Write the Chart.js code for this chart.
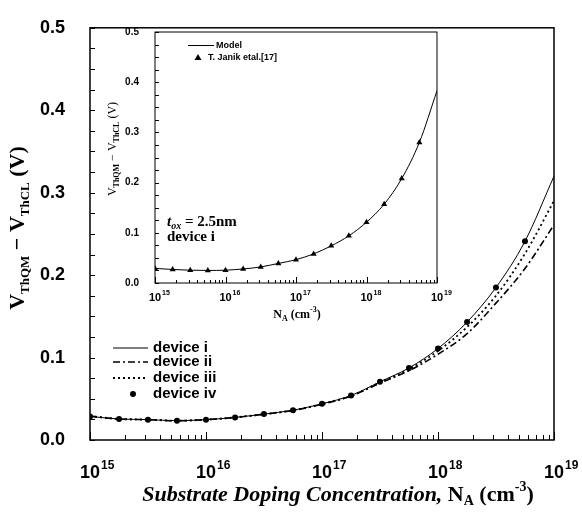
<!DOCTYPE html>
<html>
<head>
<meta charset="utf-8">
<script src="https://cdn.jsdelivr.net/npm/chart.js@4.4.1/dist/chart.umd.min.js"></script>
<style>
  html, body { margin: 0; padding: 0; background: #fff; }
  #wrap { position: relative; width: 582px; height: 522px; }
  #main { position: absolute; left: 0; top: 0; }
  #inset { position: absolute; left: 100px; top: 18px; }
</style>
</head>
<body>
<div id="wrap">
  <canvas id="main" width="582" height="522"></canvas>
  <canvas id="inset" width="360" height="312"></canvas>
</div>
<script>
// doping concentrations (cm^-3), quarter-decade steps
const dopings = [1e15, 1.78e15, 3.16e15, 5.62e15, 1e16, 1.78e16, 3.16e16, 5.62e16,
                 1e17, 1.78e17, 3.16e17, 5.62e17, 1e18, 1.78e18, 3.16e18, 5.62e18];
const lineDopings = [...dopings, 1e19];

// main plot: V_ThQM - V_ThCL (V)
const deviceI   = [0.0286, 0.0255, 0.0247, 0.0235, 0.0247, 0.0274, 0.0314, 0.0361, 0.0439, 0.054, 0.0706, 0.0874, 0.111, 0.143, 0.185, 0.241, 0.320];
const deviceII  = [0.0290, 0.0255, 0.0247, 0.0233, 0.0247, 0.0273, 0.0312, 0.0358, 0.0434, 0.0532, 0.0690, 0.0840, 0.104, 0.129, 0.166, 0.208, 0.261];
const deviceIII = [0.0290, 0.0255, 0.0247, 0.0234, 0.0247, 0.0274, 0.0313, 0.0360, 0.0437, 0.0536, 0.0698, 0.0860, 0.108, 0.137, 0.175, 0.226, 0.290];
const deviceIV  = [0.0286, 0.0255, 0.0247, 0.0235, 0.0247, 0.0274, 0.0314, 0.0361, 0.0439, 0.054, 0.0706, 0.0874, 0.111, 0.143, 0.185, 0.241];

// inset: tox = 2.5nm, device i
const insetModel = [0.029, 0.027, 0.0255, 0.025, 0.0255, 0.028, 0.032, 0.039, 0.0465, 0.058, 0.074, 0.094, 0.121, 0.157, 0.208, 0.280, 0.383];
const insetJanik = [0.029, 0.027, 0.0255, 0.025, 0.0255, 0.028, 0.032, 0.039, 0.0465, 0.058, 0.074, 0.094, 0.121, 0.157, 0.208, 0.280];

const exponents = [15, 16, 17, 18, 19];
const yTickValues = [0, 0.1, 0.2, 0.3, 0.4, 0.5];

const SANS = '"Liberation Sans", Arial, sans-serif';
const SERIF = '"Liberation Serif", "Times New Roman", serif';

function pts(xs, ys) { return ys.map((v, i) => ({ x: xs[i], y: v })); }

// draw a run of text pieces (sub/superscripts) centred on x
function drawRich(ctx, parts, x, y, align) {
  let w = 0;
  parts.forEach(p => { ctx.font = p.font; p.w = ctx.measureText(p.t).width; w += p.w; });
  let cx = align === 'left' ? x : x - w / 2;
  ctx.textAlign = 'left';
  ctx.textBaseline = 'alphabetic';
  parts.forEach(p => { ctx.font = p.font; ctx.fillText(p.t, cx, y + (p.dy || 0)); cx += p.w; });
}

function decor(opts) {
  return {
    id: 'decor',
    afterDraw(chart) {
      const { ctx, chartArea: a, scales: { x, y } } = chart;
      ctx.save();
      ctx.strokeStyle = '#000';
      ctx.fillStyle = '#000';
      ctx.lineWidth = opts.frame;
      ctx.strokeRect(a.left, a.top, a.right - a.left, a.bottom - a.top);

      // inward ticks
      ctx.lineWidth = 1;
      ctx.beginPath();
      for (let i = 0; i <= 20; i++) {
        const py = Math.round(y.getPixelForValue(i * 0.025)) + 0.5;
        ctx.moveTo(a.left, py);
        ctx.lineTo(a.left + opts.yTick, py);
      }
      exponents.forEach(e => {
        for (let m = 1; m < 10; m++) {
          if (e === 19 && m > 1) break;
          const px = Math.round(x.getPixelForValue(m * Math.pow(10, e))) + 0.5;
          ctx.moveTo(px, a.bottom);
          ctx.lineTo(px, a.bottom - (m === 1 ? opts.xMajor : opts.xMinor));
        }
      });
      ctx.stroke();

      // x tick labels 10^n
      exponents.forEach(e => {
        const px = x.getPixelForValue(Math.pow(10, e));
        ctx.font = opts.baseFont;
        const bw = ctx.measureText('10').width;
        ctx.textAlign = 'left';
        ctx.textBaseline = 'alphabetic';
        ctx.fillText('10', px - bw / 2, opts.labelY);
        ctx.font = opts.expFont;
        ctx.fillText(String(e), px + bw / 2 + 1, opts.labelY - opts.expRise);
      });

      opts.extra(ctx, a);
      ctx.restore();
    }
  };
}

function baseOptions(yWidth, xHeight, padding, yFont, yPad) {
  return {
    responsive: false,
    animation: false,
    devicePixelRatio: 1,
    layout: { padding },
    plugins: { legend: { display: false }, tooltip: { enabled: false } },
    scales: {
      x: {
        type: 'logarithmic', min: 1e15, max: 1e19,
        grid: { display: false }, border: { display: false },
        ticks: { display: false },
        afterFit: s => { s.height = xHeight; }
      },
      y: {
        min: 0, max: 0.5,
        grid: { display: false }, border: { display: false },
        afterBuildTicks: s => { s.ticks = yTickValues.map(v => ({ value: v })); },
        ticks: { color: '#000', font: yFont, padding: yPad, callback: v => v.toFixed(1) },
        afterFit: s => { s.width = yWidth; }
      }
    }
  };
}

// ---------- main chart ----------
new Chart(document.getElementById('main'), {
  type: 'line',
  data: {
    datasets: [
      { label: 'device i', data: pts(lineDopings, deviceI), borderColor: '#000', borderWidth: 1,
        pointRadius: 0, cubicInterpolationMode: 'monotone' },
      { label: 'device ii', data: pts(lineDopings, deviceII), borderColor: '#000', borderWidth: 1.6,
        borderDash: [7, 3, 2, 3], pointRadius: 0, cubicInterpolationMode: 'monotone' },
      { label: 'device iii', data: pts(lineDopings, deviceIII), borderColor: '#000', borderWidth: 1.8,
        borderDash: [2, 3], pointRadius: 0, cubicInterpolationMode: 'monotone' },
      { label: 'device iv', data: pts(dopings, deviceIV), showLine: false, pointRadius: 3,
        pointBackgroundColor: '#000', pointBorderColor: '#000', pointBorderWidth: 0 }
    ]
  },
  options: baseOptions(90, 82, { top: 13, right: 28, left: 0, bottom: 0 },
    { family: SANS, size: 18, weight: 'bold' }, 17),
  plugins: [{ id: 'bg', beforeDraw(c) { const g = c.ctx; g.save(); g.fillStyle = '#fff'; g.fillRect(0, 0, c.width, c.height); g.restore(); } },
    decor({
      frame: 1.5, yTick: 5, xMajor: 8, xMinor: 5,
      baseFont: 'bold 18px ' + SANS, expFont: 'bold 12px ' + SANS, labelY: 478, expRise: 9,
      extra(ctx, a) {
        // x title
        drawRich(ctx, [
          { t: 'Substrate Doping Concentration, ', font: 'italic bold 22px ' + SERIF },
          { t: 'N', font: 'bold 22px ' + SERIF },
          { t: 'A', font: 'bold 14px ' + SERIF, dy: 4 },
          { t: ' (cm', font: 'bold 22px ' + SERIF },
          { t: '-3', font: 'bold 14px ' + SERIF, dy: -10 },
          { t: ')', font: 'bold 22px ' + SERIF }
        ], 338, 501);
        // y title
        ctx.save();
        ctx.translate(24, 228);
        ctx.rotate(-Math.PI / 2);
        drawRich(ctx, [
          { t: 'V', font: 'bold 22px ' + SERIF },
          { t: 'ThQM', font: 'bold 13px ' + SERIF, dy: 5 },
          { t: ' \u2212 V', font: 'bold 22px ' + SERIF },
          { t: 'ThCL', font: 'bold 13px ' + SERIF, dy: 5 },
          { t: ' (V)', font: 'bold 22px ' + SERIF }
        ], 0, 0);
        ctx.restore();
        // legend
        const rows = [
          { label: 'device i', y: 348, dash: [], w: 1 },
          { label: 'device ii', y: 362, dash: [7, 3, 2, 3], w: 1.6 },
          { label: 'device iii', y: 378, dash: [2, 3], w: 1.8 },
          { label: 'device iv', y: 394, dot: true }
        ];
        rows.forEach(r => {
          if (r.dot) {
            ctx.beginPath(); ctx.arc(133, r.y, 3, 0, Math.PI * 2); ctx.fill();
          } else {
            ctx.setLineDash(r.dash); ctx.lineWidth = r.w;
            ctx.beginPath(); ctx.moveTo(113, r.y); ctx.lineTo(148, r.y); ctx.stroke();
            ctx.setLineDash([]);
          }
          ctx.font = 'bold 15px ' + SANS;
          ctx.textAlign = 'left'; ctx.textBaseline = 'middle';
          ctx.fillText(r.label, 153, r.y);
        });
      }
    })]
});

// ---------- inset chart ----------
new Chart(document.getElementById('inset'), {
  type: 'line',
  data: {
    datasets: [
      { label: 'Model', data: pts(lineDopings, insetModel), borderColor: '#000', borderWidth: 1,
        pointRadius: 0, cubicInterpolationMode: 'monotone' },
      { label: 'T. Janik etal.[17]', data: pts(dopings, insetJanik), showLine: false,
        pointStyle: 'triangle', pointRadius: 3.5, pointBackgroundColor: '#000', pointBorderColor: '#000', pointBorderWidth: 0 }
    ]
  },
  options: baseOptions(55, 47, { top: 10, right: 23, left: 0, bottom: 0 },
    { family: SANS, size: 10, weight: 'bold' }, 8),
  plugins: [{ id: 'bg', beforeDraw(c) { const g = c.ctx, a = c.chartArea; g.save(); g.fillStyle = '#fff'; g.fillRect(a.left, a.top, a.right - a.left, a.bottom - a.top); g.restore(); } },
    decor({
      frame: 1, yTick: 4, xMajor: 6, xMinor: 3,
      baseFont: 'bold 11px ' + SANS, expFont: 'bold 7px ' + SANS, labelY: 283, expRise: 6,
      extra(ctx, a) {
        drawRich(ctx, [
          { t: 'N', font: 'bold 12px ' + SERIF },
          { t: 'A', font: 'bold 8px ' + SERIF, dy: 3 },
          { t: ' (cm', font: 'bold 12px ' + SERIF },
          { t: '-3', font: 'bold 8px ' + SERIF, dy: -6 },
          { t: ')', font: 'bold 12px ' + SERIF }
        ], 197, 300);
        ctx.save();
        ctx.translate(16, 131);
        ctx.rotate(-Math.PI / 2);
        drawRich(ctx, [
          { t: 'V', font: '12px ' + SERIF },
          { t: 'ThQM', font: 'bold 8px ' + SERIF, dy: 3 },
          { t: ' \u2212 V', font: '12px ' + SERIF },
          { t: 'ThCL', font: 'bold 8px ' + SERIF, dy: 3 },
          { t: ' (V)', font: '12px ' + SERIF }
        ], 0, 0);
        ctx.restore();
        // annotation
        drawRich(ctx, [
          { t: 't', font: 'italic bold 15px ' + SERIF },
          { t: 'ox', font: 'italic bold 10px ' + SERIF, dy: 3 },
          { t: ' = 2.5nm', font: 'bold 15px ' + SERIF }
        ], 67, 208, 'left');
        ctx.font = 'bold 15px ' + SERIF;
        ctx.fillText('device i', 67, 223);
        // legend
        ctx.lineWidth = 1;
        ctx.beginPath(); ctx.moveTo(88, 27.5); ctx.lineTo(114, 27.5); ctx.stroke();
        ctx.beginPath(); ctx.moveTo(98, 36); ctx.lineTo(101.5, 42); ctx.lineTo(94.5, 42); ctx.closePath(); ctx.fill();
        ctx.font = 'bold 9px ' + SANS;
        ctx.textBaseline = 'middle';
        ctx.fillText('Model', 116, 28);
        ctx.fillText('T. Janik etal.[17]', 108, 40);
      }
    })]
});
</script>
</body>
</html>
